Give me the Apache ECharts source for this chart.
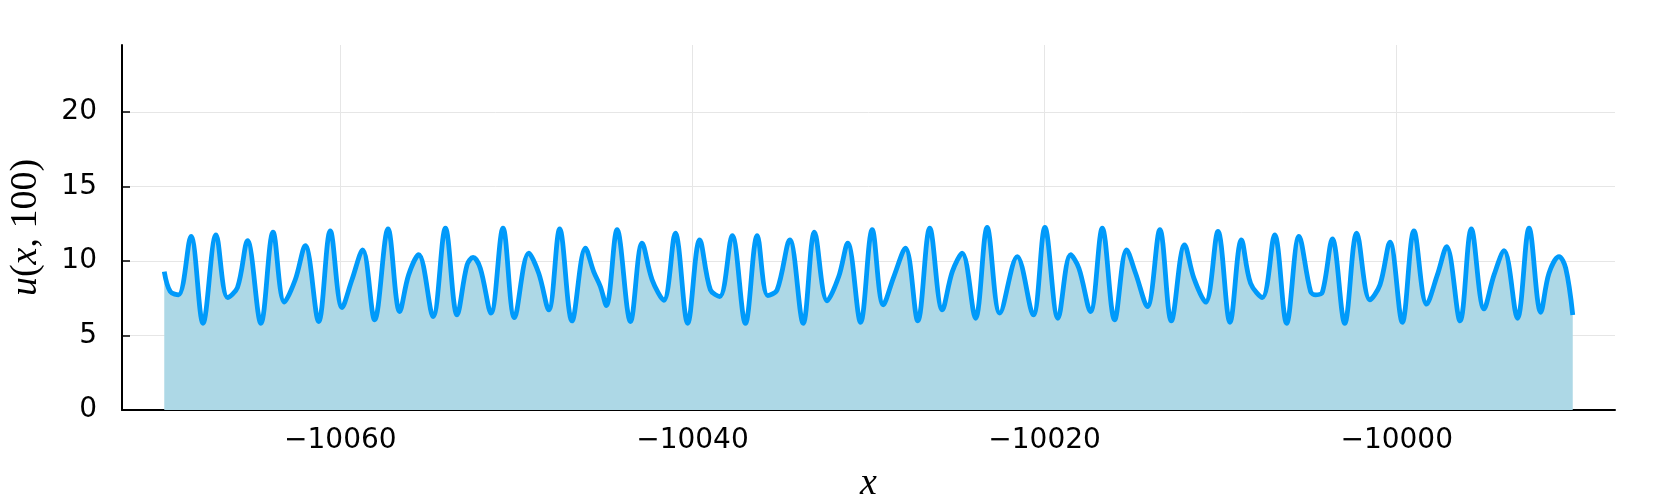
<!DOCTYPE html>
<html><head><meta charset="utf-8">
<script src="https://cdn.jsdelivr.net/npm/echarts@6/dist/echarts.min.js"></script>
<style>html,body{margin:0;padding:0;background:#fff}#c{width:1661px;height:498px}</style>
</head><body><div id="c"></div>
<script>
const xValues = [
-10070.00, -10069.66, -10069.19, -10068.48, -10067.80, -10067.06, -10066.40, -10065.84, -10065.27, -10064.51,
-10063.82, -10063.18, -10062.56, -10061.99, -10061.23, -10060.57, -10059.90, -10059.34, -10058.73, -10058.05,
-10057.29, -10056.63, -10056.12, -10055.55, -10054.73, -10054.03, -10053.37, -10052.80, -10052.46, -10052.05,
-10051.44, -10050.76, -10050.11, -10049.30, -10048.73, -10048.16, -10047.54, -10046.84, -10046.08, -10045.61,
-10045.23, -10044.89, -10044.28, -10043.52, -10042.86, -10042.29, -10041.63, -10040.97, -10040.27, -10039.59,
-10038.98, -10038.45, -10037.74, -10036.99, -10036.32, -10035.72, -10035.19, -10034.47, -10033.71, -10033.07,
-10032.35, -10031.69, -10031.18, -10030.45, -10029.79, -10029.16, -10028.56, -10027.90, -10027.20, -10026.52,
-10025.81, -10025.24, -10024.68, -10023.92, -10023.26, -10022.54, -10021.55, -10020.64, -10019.98, -10019.24,
-10018.52, -10018.05, -10017.39, -10016.72, -10016.02, -10015.34, -10014.83, -10014.16, -10013.45, -10012.80,
-10012.05, -10011.52, -10010.85, -10010.15, -10009.47, -10008.82, -10008.30, -10007.63, -10006.93, -10006.25,
-10005.55, -10004.89, -10004.60, -10004.22, -10003.65, -10002.95, -10002.27, -10001.52, -10000.95, -10000.38,
-9999.68, -9999.02, -9998.30, -9997.69, -9997.16, -9996.40, -9995.76, -9995.04, -9994.47, -9993.90,
-9993.14, -9992.48, -9991.82, -9991.35, -9990.78, -9990.40, -9990.00
];
const uValues = [
9.29, 7.95, 7.73, 11.65, 5.82, 11.76, 7.55, 8.22, 11.36, 5.82,
11.94, 7.24, 8.74, 11.04, 5.94, 12.03, 6.88, 8.74, 10.75, 6.05,
12.16, 6.61, 9.07, 10.42, 6.27, 12.21, 6.38, 9.74, 10.24, 9.52,
6.50, 12.21, 6.20, 10.53, 9.18, 6.72, 12.16, 5.98, 10.87, 9.29,
8.29, 7.01, 12.10, 5.94, 11.20, 8.74, 7.36, 11.87, 5.82, 11.42,
8.06, 7.62, 11.71, 5.82, 11.71, 7.68, 8.06, 11.42, 5.82, 11.94,
7.33, 8.96, 11.20, 5.89, 12.10, 7.06, 8.96, 10.87, 5.98, 12.21,
6.72, 9.29, 10.53, 6.16, 12.25, 6.50, 10.30, 6.38, 12.25, 6.16,
10.42, 9.52, 6.61, 12.21, 6.05, 10.75, 9.18, 6.94, 12.10, 5.98,
11.09, 8.85, 7.24, 11.98, 5.89, 11.42, 8.51, 7.55, 11.76, 5.82,
11.65, 7.95, 7.73, 7.91, 11.49, 5.82, 11.87, 7.39, 8.40, 11.27,
5.89, 12.03, 7.10, 9.07, 10.97, 5.98, 12.16, 6.79, 9.07, 10.69,
6.16, 12.21, 6.56, 9.18, 10.30, 9.52, 6.38
];
const xTicks = [-10060, -10040, -10020, -10000];
const yTicks = [0, 5, 10, 15, 20];

const data = xValues.map((x, i) => [x, uValues[i]]);
const tickFont = {fontFamily: 'DejaVu Sans', fontSize: 28, color: '#000'};
const chart = echarts.init(document.getElementById('c'), null, {renderer: 'canvas'});
chart.setOption({
  animation: false,
  backgroundColor: '#fff',
  grid: {left: 122, right: 46, top: 45, bottom: 88, containLabel: false, outerBoundsMode: 'none'},
  xAxis: {
    type: 'value', min: -10072.4, max: -9987.6,
    axisLine: {show: true, onZero: false, lineStyle: {color: '#000', width: 2}},
    axisTick: {show: true, inside: true, length: 8, customValues: xTicks, lineStyle: {color: '#000', width: 1.5}},
    axisLabel: Object.assign({customValues: xTicks, margin: 17,
      formatter: v => (v < 0 ? '\u2212' : '') + Math.abs(v)}, tickFont),
    splitLine: {show: true, lineStyle: {color: '#e6e6e6', width: 1}},
    name: '{it|x}', nameLocation: 'middle', nameGap: 55,
    nameTextStyle: {rich: {it: {fontFamily: 'Liberation Serif', fontStyle: 'italic', fontSize: 38, color: '#000'}}}
  },
  yAxis: {
    type: 'value', min: 0, max: 24.5,
    axisLine: {show: true, onZero: false, lineStyle: {color: '#000', width: 2}},
    axisTick: {show: true, inside: true, length: 8, customValues: yTicks, lineStyle: {color: '#000', width: 1.5}},
    axisLabel: Object.assign({customValues: yTicks, margin: 25}, tickFont),
    splitLine: {show: true, lineStyle: {color: '#e6e6e6', width: 1}},
    name: '{it|u}{rm|(}{it|x}{rm|, 100)}', nameLocation: 'middle', nameGap: 77,
    nameTextStyle: {rich: {
      it: {fontFamily: 'Liberation Serif', fontStyle: 'italic', fontSize: 38, color: '#000'},
      rm: {fontFamily: 'Liberation Serif', fontSize: 38, color: '#000'}
    }}
  },
  series: [{
    type: 'line', data: data, smooth: 0.35, showSymbol: false,
    lineStyle: {color: '#009AFA', width: 4.8},
    areaStyle: {color: '#ADD8E6', opacity: 1, origin: 'start'},
    z: 3
  }]
});
</script>
</body></html>
